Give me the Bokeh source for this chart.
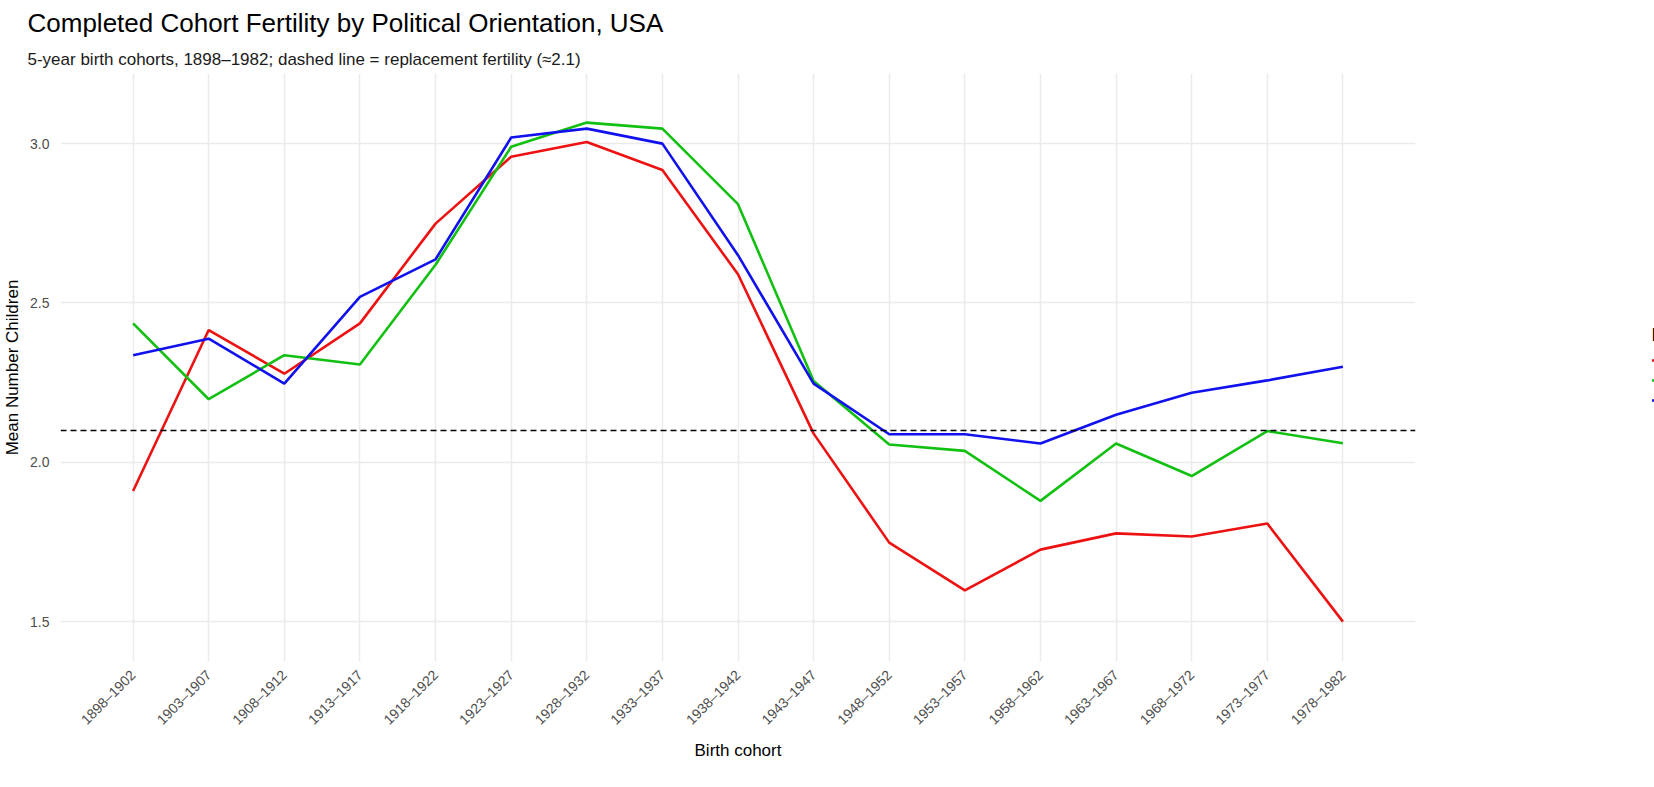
from bokeh.plotting import figure
from bokeh.models import FactorRange, Range1d, Span, Legend, LegendItem, Title, CustomJSTickFormatter
from bokeh.embed import file_html
from bokeh.resources import INLINE

cohorts = ["1898–1902", "1903–1907", "1908–1912", "1913–1917", "1918–1922", "1923–1927",
           "1928–1932", "1933–1937", "1938–1942", "1943–1947", "1948–1952", "1953–1957",
           "1958–1962", "1963–1967", "1968–1972", "1973–1977", "1978–1982"]
left = [1.91, 2.415, 2.278, 2.436, 2.749, 2.959, 3.005, 2.917, 2.59, 2.09, 1.748, 1.598,
        1.726, 1.777, 1.767, 1.808, 1.50]
middle = [2.436, 2.198, 2.336, 2.307, 2.62, 2.99, 3.066, 3.047, 2.81, 2.255, 2.056, 2.036,
          1.879, 2.059, 1.957, 2.098, 2.06]
right = [2.336, 2.388, 2.247, 2.519, 2.637, 3.019, 3.047, 3.0, 2.65, 2.247, 2.088, 2.088,
         2.059, 2.149, 2.218, 2.257, 2.30]
series_names = ["Left of center", "Middle", "Right of center"]
colors = ["#EE1111", "#11C011", "#1111EE"]
replacement = 2.1

FONT = "Liberation Sans"
p = figure(frame_width=1355, frame_height=588, output_backend="svg", toolbar_location=None,
           x_range=FactorRange(*cohorts, range_padding=0.46, range_padding_units="absolute"),
           y_range=Range1d(1.375, 3.22),
           min_border_left=53, min_border_right=0, min_border_top=10, min_border_bottom=5)
p.outline_line_color = None
p.background_fill_color = "white"
p.border_fill_color = "white"

p.add_layout(Title(text="5-year birth cohorts, 1898–1982; dashed line = replacement fertility (≈2.1)",
                   text_font=FONT, text_font_size="17px", text_font_style="normal",
                   text_color="#1a1a1a", offset=-33), "above")
p.add_layout(Title(text="Completed Cohort Fertility by Political Orientation, USA",
                   text_font=FONT, text_font_size="26px", text_font_style="normal",
                   text_color="#000000", offset=-33), "above")

items = []
for name, ys, c in zip(series_names, [left, middle, right], colors):
    r = p.line(cohorts, ys, line_color=c, line_width=2.6)
    items.append(LegendItem(label=name, renderers=[r]))

p.add_layout(Span(location=replacement, dimension="width", line_color="black",
                  line_dash="6 4", line_width=1.6))

legend = Legend(items=items, title="Political orientation", location="center",
                title_text_font=FONT, title_text_font_size="18px", title_text_color="#000",
                title_text_font_style="normal",
                label_text_font=FONT, label_text_font_size="14px", label_text_color="#222",
                border_line_color=None, background_fill_alpha=0, glyph_width=26,
                label_height=18, glyph_height=18, spacing=2, margin=14, padding=4)
p.add_layout(legend, "right")

p.xaxis.axis_label = "Birth cohort"
p.yaxis.axis_label = "Mean Number Children"
for ax in [p.xaxis[0], p.yaxis[0]]:
    ax.axis_label_text_font = FONT
    ax.axis_label_text_font_size = "17px"
    ax.axis_label_text_font_style = "normal"
    ax.axis_label_text_color = "#000"
    ax.major_label_text_font = FONT
    ax.major_label_text_font_size = "14px"
    ax.major_label_text_color = "#4d4d4d"
    ax.axis_line_color = None
    ax.major_tick_line_color = None
    ax.minor_tick_line_color = None
p.xaxis.major_label_orientation = 0.785
p.yaxis.ticker = [1.5, 2.0, 2.5, 3.0]
p.yaxis.formatter = CustomJSTickFormatter(code="return tick.toFixed(1);")
p.xgrid.grid_line_color = "#ebebeb"
p.ygrid.grid_line_color = "#ebebeb"
p.xgrid.grid_line_width = 1.5
p.ygrid.grid_line_width = 1.5

open("out.html", "w").write(file_html(p, INLINE))
